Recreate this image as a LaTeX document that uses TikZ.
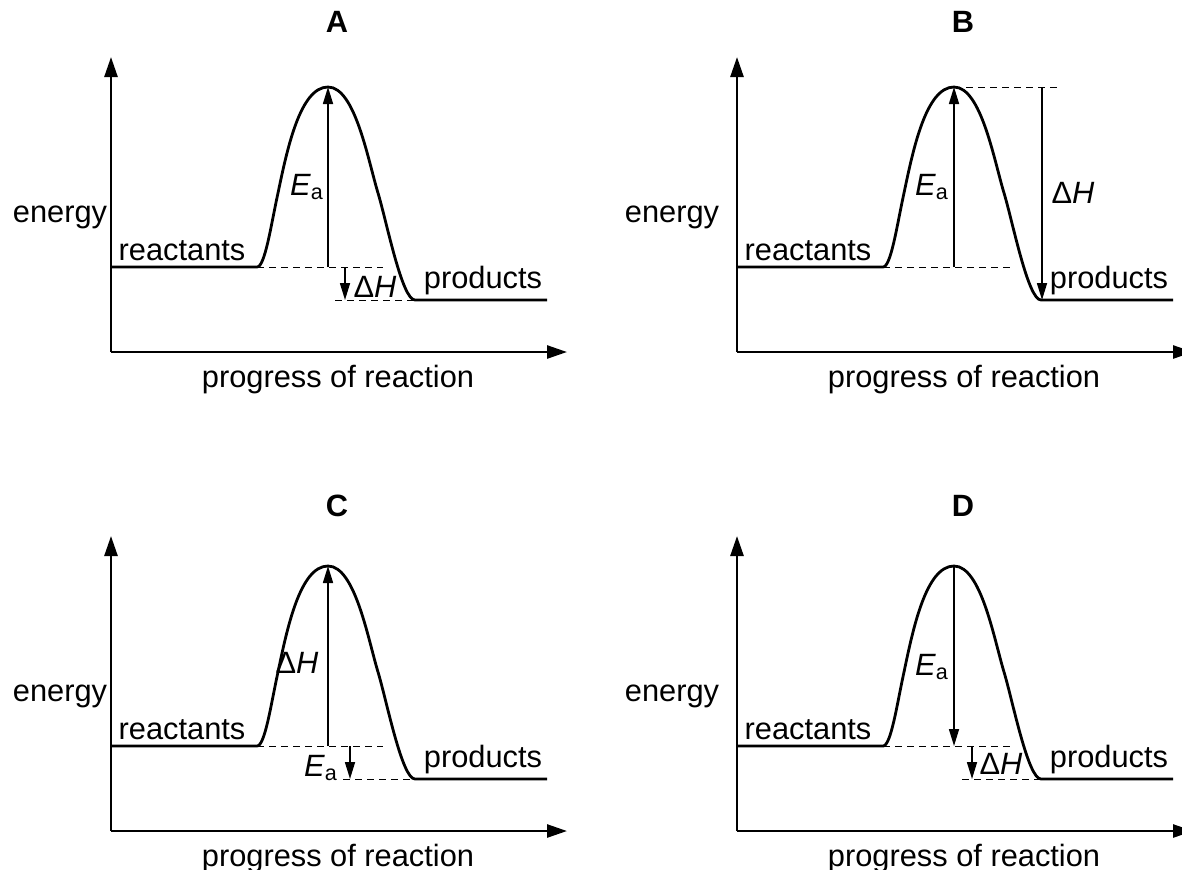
\documentclass[tikz,border=0pt]{standalone}
\usepackage{fontspec}
\setmainfont{Liberation Sans}
\usetikzlibrary{arrows.meta}

\begin{document}
\begin{tikzpicture}[x=0.5pt, y=-0.5pt,
  axis/.style={line width=1.3pt, -{Triangle[length=10pt, width=6.5pt]}},
  curve/.style={line width=1.4pt},
  arr/.style={line width=0.8pt, -{Triangle[length=8.5pt, width=5pt]}},
  guide/.style={line width=0.5pt, dash pattern=on 3.5pt off 2.5pt},
  lbl/.style={font=\fontsize{15.4}{18}\selectfont, inner sep=0pt}
]
\useasboundingbox (0,0) rectangle (1182,869);

% axes, profile and labels that every panel has
\foreach \p/\dx/\dy/\ex/\ty in {A/0/0/60/22, B/626/0/46/22, C/0/479/60/27, D/626/479/46/27}{
  \begin{scope}[shift={(\dx,\dy)}]
    \coordinate (o\p) at (111,352);
    \coordinate (y\p) at (111,57);
    \coordinate (x\p) at (567,352);
    \coordinate (s\p) at (111,267);
    \coordinate (r\p) at (257,267);
    \coordinate (t\p) at (328,87);
    \coordinate (q\p) at (415,300);
    \coordinate (e\p) at (547,300);
    \draw[axis] (o\p) -- (y\p);
    \draw[axis] (o\p) -- (x\p);
    \draw[curve] (s\p) -- (r\p) .. controls (265,267) and (271,225) .. (278,193)
      .. controls (287,150) and (300,87) .. (t\p)
      .. controls (355,87) and (368,160) .. (378,193)
      .. controls (387,223) and (402,300) .. (q\p) -- (e\p);
    \node[lbl] (ttl\p) at (337,\ty) {\textbf{\p}};
    \node[lbl] (en\p) at (\ex,217) {energy};
    \node[lbl] (pr\p) at (338,380) {progress of reaction};
    \node[lbl] (re\p) at (182,251) {reactants};
    \node[lbl] (pd\p) at (483,281) {products};
  \end{scope}
}

% A
\coordinate (gA1) at (383,267);
\coordinate (gA2) at (335,300);
\coordinate (bA) at (328,267);
\coordinate (hA1) at (345,267);
\coordinate (hA2) at (345,300);
\draw[guide] (rA) -- (gA1);
\draw[guide] (gA2) -- (qA);
\draw[arr] (bA) -- (tA);
\draw[arr] (hA1) -- (hA2);
\node[lbl] (eaA) at (307,187) {\textit{E}\textsubscript{a}};
\node[lbl] (dhA) at (375,287) {Δ\textit{H}};

% B
\coordinate (gB1) at (1058,87);
\coordinate (gB2) at (1010,267);
\coordinate (bB) at (954,267);
\coordinate (hB1) at (1042,87);
\coordinate (hB2) at (1042,300);
\draw[guide] (tB) -- (gB1);
\draw[guide] (rB) -- (gB2);
\draw[arr] (bB) -- (tB);
\draw[arr] (hB1) -- (hB2);
\node[lbl] (eaB) at (932,187) {\textit{E}\textsubscript{a}};
\node[lbl] (dhB) at (1073,193) {Δ\textit{H}};

% C
\coordinate (gC1) at (383,746);
\coordinate (gC2) at (343,779);
\coordinate (bC) at (328,746);
\coordinate (hC1) at (350,746);
\coordinate (hC2) at (350,779);
\draw[guide] (rC) -- (gC1);
\draw[guide] (gC2) -- (qC);
\draw[arr] (bC) -- (tC);
\draw[arr] (hC1) -- (hC2);
\node[lbl] (dhC) at (297,663) {Δ\textit{H}};
\node[lbl] (eaC) at (321,768) {\textit{E}\textsubscript{a}};

% D
\coordinate (gD1) at (1010,746);
\coordinate (gD2) at (962,779);
\coordinate (bD) at (954,746);
\coordinate (hD1) at (972,746);
\coordinate (hD2) at (972,779);
\draw[guide] (rD) -- (gD1);
\draw[guide] (gD2) -- (qD);
\draw[arr] (tD) -- (bD);
\draw[arr] (hD1) -- (hD2);
\node[lbl] (eaD) at (932,667) {\textit{E}\textsubscript{a}};
\node[lbl] (dhD) at (1001,764) {Δ\textit{H}};
\end{tikzpicture}
\end{document}
